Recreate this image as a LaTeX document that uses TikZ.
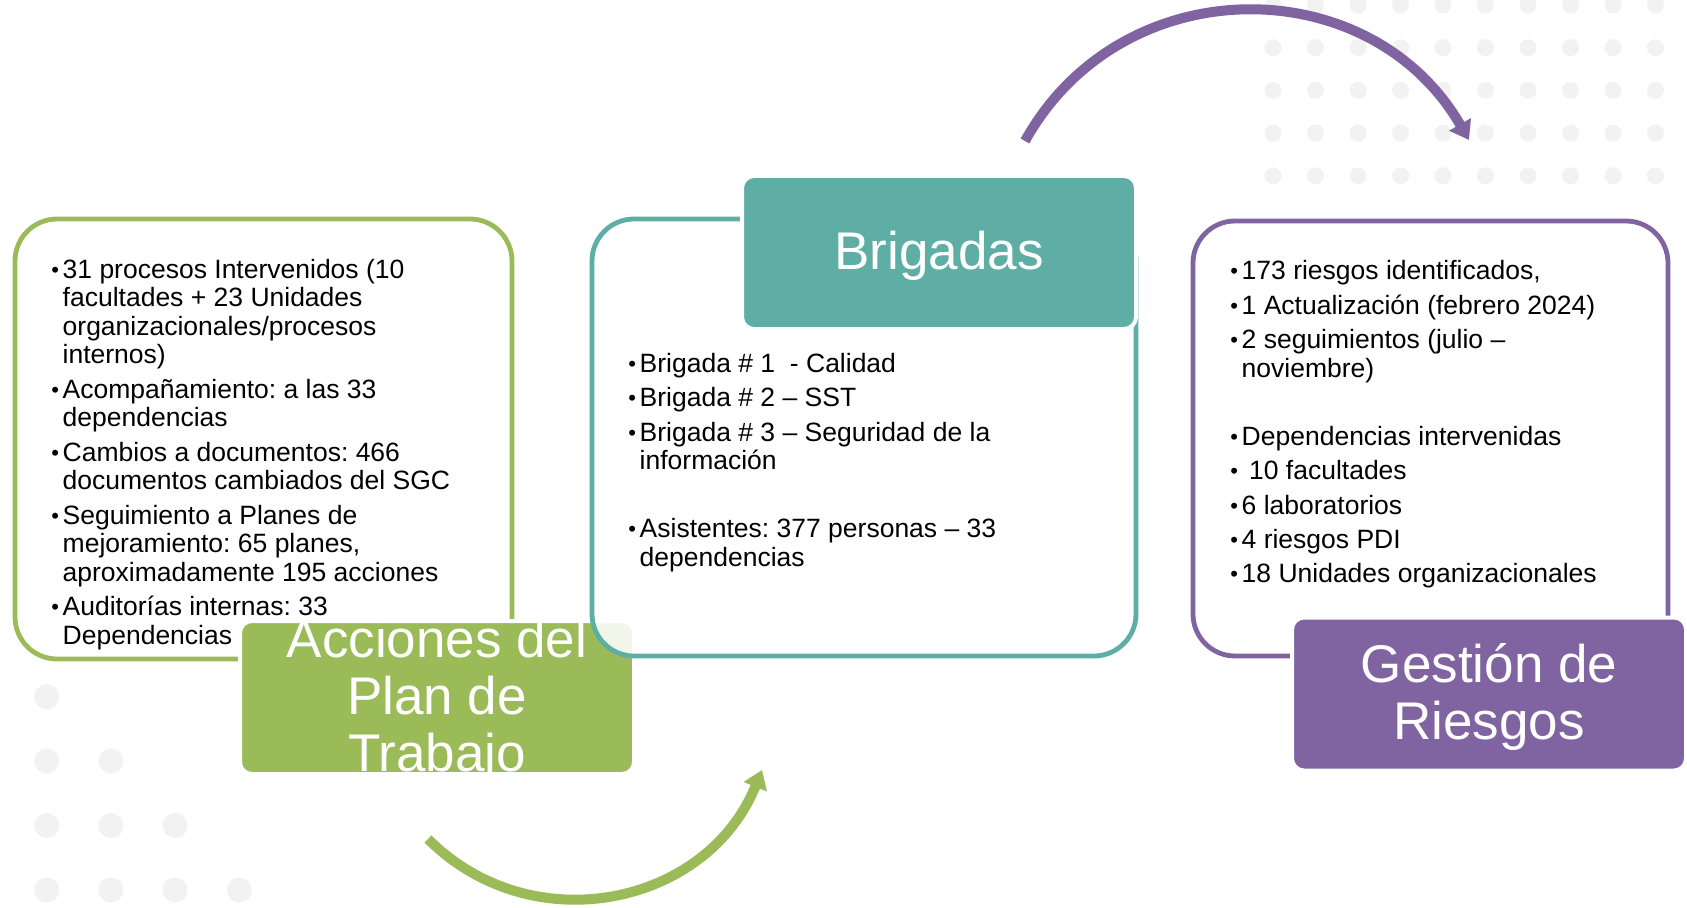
\documentclass[tikz,border=0pt]{standalone}
\usepackage{fontspec}
\setmainfont{Liberation Sans}
\usepackage{xcolor}
\usepackage{tikz}
\usetikzlibrary{arrows.meta, positioning}

\definecolor{planGreen}{HTML}{9BBB59}
\definecolor{brigTeal}{HTML}{5EAEA5}
\definecolor{riskPurple}{HTML}{8064A2}
\definecolor{dotGray}{HTML}{F2F2F2}

\tikzstyle{panel}    = [rectangle, rounded corners=21pt, line width=2.4pt, fill=white, fill opacity=0.88]
\tikzstyle{header}   = [rectangle, rounded corners=6pt, minimum width=197pt, minimum height=76.5pt, draw=white, line width=2pt]
\tikzstyle{headtext} = [text=white, align=center, inner sep=0pt, yshift=-1.5pt, font=\fontsize{26.5}{28.5}\selectfont]
\tikzstyle{items}    = [anchor=base west, inner sep=0pt, font=\fontsize{13.25}{14.3}\selectfont\frenchspacing]
\tikzstyle{arcarrow} = [line width=5pt, -{Triangle[length=9pt, width=12pt]}]

\newcommand{\bul}{\raisebox{0.5pt}{\fontsize{11}{11}\selectfont\textbullet}}
\newenvironment{bulletlist}{\begin{tabular}[t]{@{}l@{\hspace{1.8pt}}l@{}}}{\end{tabular}}

\begin{document}
\begin{tikzpicture}[x=0.5pt, y=0.5pt]

\useasboundingbox (0,0) rectangle (1687,907);
\fill [white] (0,0) rectangle (1687,907);

% background dots
\foreach \i in {0,...,9}
  \foreach \j in {0,...,4}
    \fill [dotGray] (1273+42.5*\i, 902-42.7*\j) circle (4.25pt);
\foreach \j in {0,...,3}
  \foreach \i in {0,...,\j}
    \fill [dotGray] (46.7+64.2*\i, 210.3-64.4*\j) circle (6.25pt);

% Acciones del Plan de Trabajo
\node (planPanel) [panel, draw=planGreen, minimum width=248.5pt, minimum height=220pt] at (263.5,468) {};
\node (acciones) [header, fill=planGreen] at (437,209.5) {};
\node (accionesTxt) [headtext] at (acciones.center) {Acciones del\\Plan de\\Trabajo};
\node (planList) [items] at (51,629) {\begin{bulletlist}
\bul & 31 procesos Intervenidos (10\\
 & facultades + 23 Unidades\\
 & organizacionales/procesos\\
 & internos)\\[2.9pt]
\bul & Acompañamiento: a las 33\\
 & dependencias\\[2.9pt]
\bul & Cambios a documentos: 466\\
 & documentos cambiados del SGC\\[2.9pt]
\bul & Seguimiento a Planes de\\
 & mejoramiento: 65 planes,\\
 & aproximadamente 195 acciones\\[2.9pt]
\bul & Auditorías internas: 33\\
 & Dependencias
\end{bulletlist}};

% Brigadas
\node (brigPanel) [panel, draw=brigTeal, minimum width=272pt, minimum height=218.5pt] at (864,469.5) {};
\node (brigadas) [header, fill=brigTeal] at (939,654.5) {};
\node (brigadasTxt) [headtext] at (brigadas.center) {Brigadas};
\node (brigList) [items] at (628,534.6) {\begin{bulletlist}
\bul & Brigada \# 1~~- Calidad\\[2.9pt]
\bul & Brigada \# 2 – SST\\[2.9pt]
\bul & Brigada \# 3 – Seguridad de la\\
 & información\\[19.7pt]
\bul & Asistentes: 377 personas – 33\\
 & dependencias
\end{bulletlist}};

% Gestion de Riesgos
\node (riskPanel) [panel, draw=riskPurple, minimum width=237.5pt, minimum height=217.5pt] at (1430.5,468.5) {};
\node (riesgos) [header, fill=riskPurple] at (1489,213) {};
\node (riesgosTxt) [headtext] at (riesgos.center) {Gestión de\\Riesgos};
\node (riskList) [items] at (1230,627) {\begin{bulletlist}
\bul & 173 riesgos identificados,\\[2.9pt]
\bul & 1 Actualización (febrero 2024)\\[2.9pt]
\bul & 2 seguimientos (julio –\\
 & noviembre)\\[19.7pt]
\bul & Dependencias intervenidas\\[2.9pt]
\bul & \hspace*{0.28em}10 facultades\\[2.9pt]
\bul & 6 laboratorios\\[2.9pt]
\bul & 4 riesgos PDI\\[2.9pt]
\bul & 18 Unidades organizacionales
\end{bulletlist}};

% curved arrows between steps
\coordinate (planStart) at (428,68);
\coordinate (planEnd) at (762,137);
\coordinate (riskStart) at (1025,766);
\coordinate (riskEnd) at (1469,767);
\draw [arcarrow, planGreen] (planStart) to[out=-45, in=248, looseness=1.1] (planEnd);
\draw [arcarrow, riskPurple] (riskStart) to[out=61, in=120, looseness=1.14] (riskEnd);

\end{tikzpicture}
\end{document}
